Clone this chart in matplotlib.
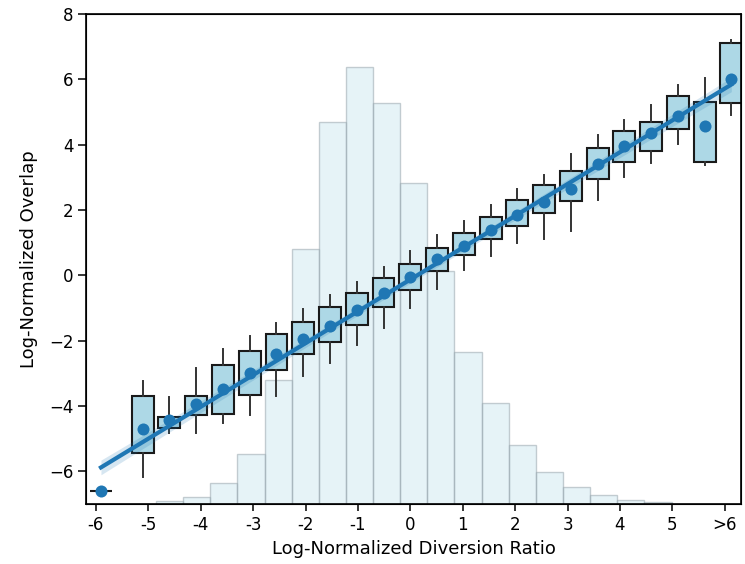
import numpy as np
import matplotlib
matplotlib.use("Agg")
import matplotlib.pyplot as plt

# binned overlap statistics, one group per half-unit of the diversion ratio
box_pos = [-5.78, -5, -4.5, -4, -3.5, -3, -2.5, -2, -1.5, -1, -0.5, 0,
           0.5, 1, 1.5, 2, 2.5, 3, 3.5, 4, 4.5, 5, 5.5, 6]
whis_lo = [-6.6, -6.16, -4.84, -4.82, -4.51, -4.29, -3.68, -3.07, -2.68, -2.12, -1.61, -0.99,
           -0.41, 0.16, 0.58, 0.99, 1.12, 1.35, 2.32, 3.01, 3.44, 4.03, 3.39, 4.92]
q1 = [-6.6, -5.45, -4.67, -4.27, -4.23, -3.65, -2.91, -2.42, -2.03, -1.51, -0.96, -0.46,
      0.13, 0.61, 1.10, 1.52, 1.91, 2.27, 2.96, 3.47, 3.82, 4.48, 3.46, 5.28]
q3 = [-6.6, -3.68, -4.35, -3.68, -2.73, -2.32, -1.81, -1.42, -0.98, -0.54, -0.08, 0.35,
      0.84, 1.30, 1.79, 2.32, 2.76, 3.18, 3.90, 4.43, 4.70, 5.48, 5.31, 7.11]
whis_hi = [-6.6, -3.24, -3.72, -2.83, -2.25, -1.86, -1.45, -1.02, -0.59, -0.21, 0.25, 0.74,
           1.22, 1.65, 2.14, 2.65, 3.08, 3.70, 4.31, 4.74, 5.22, 5.84, 6.04, 7.21]
means = [-6.6, -4.70, -4.44, -3.95, -3.47, -2.98, -2.42, -1.96, -1.56, -1.07, -0.54, -0.05,
         0.50, 0.91, 1.40, 1.86, 2.24, 2.65, 3.42, 3.95, 4.36, 4.89, 4.58, 6.02]

# linear fit of overlap on diversion ratio
fit_slope = 0.995
fit_intercept = -0.13

# distribution of pairs over the diversion ratio (percent per bin)
hist_edges = [-5.0, -4.5, -4.0, -3.5, -3.0, -2.5, -2.0, -1.5, -1.0, -0.5, 0.0,
              0.5, 1.0, 1.5, 2.0, 2.5, 3.0, 3.5, 4.0, 4.5]
hist_pct = [0.12, 0.28, 0.82, 1.92, 4.75, 9.76, 14.63, 16.74, 15.36, 12.29,
            8.93, 5.84, 3.86, 2.26, 1.22, 0.66, 0.34, 0.15, 0.07]

tick_vals = [-6, -5, -4, -3, -2, -1, 0, 1, 2, 3, 4, 5, 6]
tick_labels = ["-6", "-5", "-4", "-3", "-2", "-1", "0", "1", "2", "3", "4", "5", ">6"]

blue = "#1f77b4"
rect = [0.1154, 0.1064, 0.8792, 0.8688]

fig = plt.figure(figsize=(7.45, 5.64), dpi=100)

# histogram in the background
ax_hist = fig.add_axes(rect)
edges = np.array(hist_edges)
ax_hist.bar(edges[:-1], hist_pct, width=np.diff(edges), align="edge",
            facecolor=(0.68, 0.85, 0.90, 0.30), edgecolor=(0.6, 0.65, 0.68, 0.55), linewidth=1)
ax_hist.set_xlim(-6.29, 5.78)
ax_hist.set_ylim(0, 18.78)
ax_hist.axis("off")

# boxes, bin means and the fitted line
ax = fig.add_axes(rect)
ax.patch.set_alpha(0)
stats = [dict(whislo=a, q1=b, med=(b + c) / 2, q3=c, whishi=d)
         for a, b, c, d in zip(whis_lo, q1, q3, whis_hi)]
ax.bxp(stats, positions=box_pos, widths=0.41, showfliers=False, showcaps=False,
       patch_artist=True, manage_ticks=False,
       boxprops=dict(facecolor="#add8e6", edgecolor="#1a1a1a", linewidth=1.5),
       whiskerprops=dict(color="#333333", linewidth=1.4),
       medianprops=dict(linewidth=0))

x = np.array(box_pos)
y = np.array(means)
xs = np.linspace(x.min(), x.max(), 100)
fit = fit_slope * xs + fit_intercept
resid = y - (fit_slope * x + fit_intercept)
s = np.sqrt(np.sum(resid ** 2) / (len(x) - 2))
se = s * np.sqrt(1 / len(x) + (xs - x.mean()) ** 2 / np.sum((x - x.mean()) ** 2))
ax.fill_between(xs, fit - 2.07 * se, fit + 2.07 * se, color=blue, alpha=0.18, linewidth=0, zorder=3)
ax.plot(xs, fit, color=blue, linewidth=3, zorder=4)
ax.scatter(x, y, s=75, color=blue, zorder=5, linewidths=0)

ax.set_xlim(-6.06, 6.18)
ax.set_ylim(-7, 8)
ax.set_xticks([])
ax.set_ylabel("Log-Normalized Overlap", fontsize=13, labelpad=8)
ax.tick_params(axis="y", labelsize=12, length=5.5, width=1.1)
for sp in ax.spines.values():
    sp.set_linewidth(1.2)

# category labels along the bottom
ax_x = ax.twiny()
ax_x.set_xlim(-6.19, 6.31)
ax_x.xaxis.set_ticks_position("bottom")
ax_x.xaxis.set_label_position("bottom")
ax_x.set_xticks(tick_vals)
ax_x.set_xticklabels(tick_labels)
ax_x.tick_params(axis="x", labelsize=12, length=5, width=1.1, pad=4)
ax_x.set_xlabel("Log-Normalized Diversion Ratio", fontsize=13, labelpad=4)

fig.savefig("out.png", dpi=100)
